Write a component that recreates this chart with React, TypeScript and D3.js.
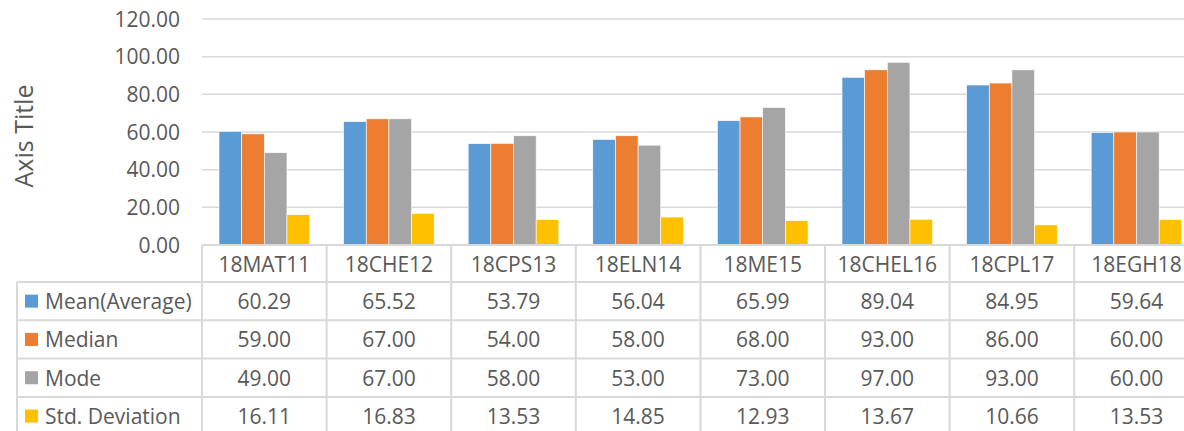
import React from "react";
import * as d3 from "d3";

const categories = ["18MAT11", "18CHE12", "18CPS13", "18ELN14", "18ME15", "18CHEL16", "18CPL17", "18EGH18"];
const seriesNames = ["Mean(Average)", "Median", "Mode", "Std. Deviation"];
const meanValues = [60.29, 65.52, 53.79, 56.04, 65.99, 89.04, 84.95, 59.64];
const medianValues = [59, 67, 54, 58, 68, 93, 86, 60];
const modeValues = [49, 67, 58, 53, 73, 97, 93, 60];
const stdValues = [16.11, 16.83, 13.53, 14.85, 12.93, 13.67, 10.66, 13.53];
const yTicks = [0, 20, 40, 60, 80, 100, 120];
const colors = ["#5B9BD5", "#ED7D31", "#A5A5A5", "#FFC000"];

const series = [meanValues, medianValues, modeValues, stdValues];

export default function App() {
  const W = 1184, H = 431;
  const plotLeft = 202, bandW = 124.6;
  const plotRight = plotLeft + bandW * categories.length;
  const y = d3.scaleLinear().domain([0, 120]).range([245, 19]);
  const x0 = d3.scaleBand<string>().domain(categories).range([plotLeft, plotRight]).paddingInner(0).paddingOuter(0);
  const gap = 1.5;
  const groupW = x0.bandwidth() * 4 / (4 + gap);
  const x1 = d3.scaleBand<number>().domain([0, 1, 2, 3]).range([0, groupW]).padding(0);
  const offset = (x0.bandwidth() - groupW) / 2;
  const textColor = "#595959";
  const lineColor = "#D9D9D9";
  const font = "'Open Sans', sans-serif";
  const fs = 21;
  const headerTop = 245, rowH = 38.3;
  const bodyTop = headerTop + 37;
  const tableLeft = 17;

  return (
    <svg width={W} height={H} style={{ position: "absolute", left: 0, top: 0, background: "#fff" }} fontFamily={font}>
      <rect x={0} y={0} width={W} height={H} fill="#fff" />
      {yTicks.map((t) => (
        <g key={t}>
          {t > 0 && <line x1={plotLeft} x2={W} y1={y(t)} y2={y(t)} stroke={lineColor} strokeWidth={1.5} />}
          <text x={180} y={y(t)} dy="0.36em" textAnchor="end" fontSize={fs} fill={textColor}>{t.toFixed(2)}</text>
        </g>
      ))}
      <text transform={`translate(33,136) rotate(-90)`} textAnchor="middle" fontSize={25} fill={textColor}>Axis Title</text>
      {categories.map((c, i) => (
        <g key={c}>
          {series.map((s, j) => (
            <rect key={j} x={(x0(c) as number) + offset + (x1(j) as number)} y={y(s[i])} width={x1.bandwidth()} height={y(0) - y(s[i])} fill={colors[j]} stroke="#fff" strokeWidth={0.6} />
          ))}
        </g>
      ))}
      {/* table lines */}
      <line x1={plotLeft} x2={W} y1={headerTop} y2={headerTop} stroke={lineColor} strokeWidth={2} />
      {d3.range(categories.length + 1).map((i) => (
        <line key={i} x1={plotLeft + i * bandW} x2={plotLeft + i * bandW} y1={headerTop} y2={H} stroke={lineColor} strokeWidth={2} />
      ))}
      <line x1={tableLeft} x2={tableLeft} y1={bodyTop} y2={H} stroke={lineColor} strokeWidth={2} />
      {d3.range(5).map((r) => (
        <line key={r} x1={tableLeft} x2={W} y1={bodyTop + r * rowH} y2={bodyTop + r * rowH} stroke={lineColor} strokeWidth={2} />
      ))}
      {categories.map((c) => (
        <text key={c} x={(x0(c) as number) + x0.bandwidth() / 2} y={headerTop + 19} dy="0.38em" textAnchor="middle" fontSize={fs} fill={textColor}>{c}</text>
      ))}
      {seriesNames.map((n, r) => (
        <g key={n}>
          <rect x={25} y={bodyTop + r * rowH + rowH / 2 - 6.5} width={13} height={13} fill={colors[r]} />
          <text x={45} y={bodyTop + r * rowH + rowH / 2} dy="0.38em" fontSize={fs} fill={textColor}>{n}</text>
          {series[r].map((v, i) => (
            <text key={i} x={(x0(categories[i]) as number) + x0.bandwidth() / 2} y={bodyTop + r * rowH + rowH / 2} dy="0.38em" textAnchor="middle" fontSize={fs} fill={textColor}>{v.toFixed(2)}</text>
          ))}
        </g>
      ))}
    </svg>
  );
}
